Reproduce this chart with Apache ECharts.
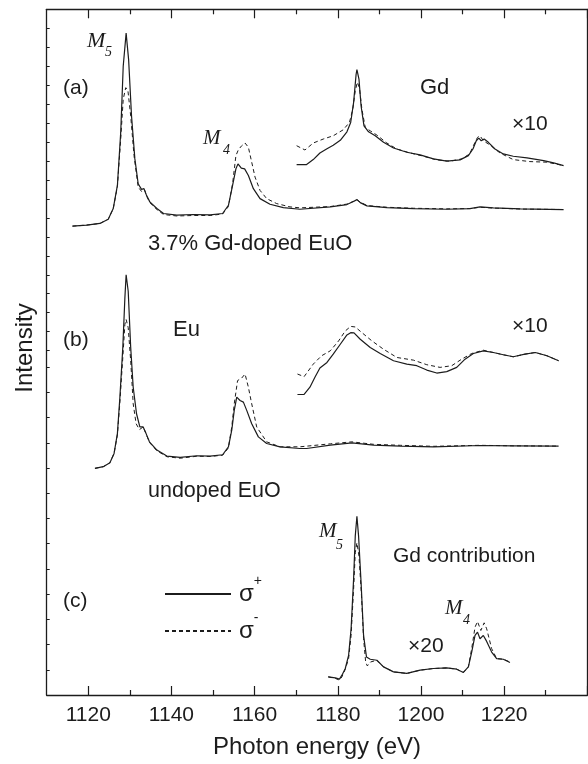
<!DOCTYPE html>
<html>
<head>
<meta charset="utf-8">
<script src="https://cdn.jsdelivr.net/npm/echarts@6/dist/echarts.min.js"></script>
<style>
html,body{margin:0;padding:0;background:#fff;}
#chart{width:588px;height:764px;}
</style>
</head>
<body>
<div id="chart"></div>
<script>
// Photon energy (eV) vs intensity (arb. units, panels offset vertically)
const xMajorTicks = [1120, 1140, 1160, 1180, 1200, 1220, 1240];
const xMinorTicks = [1130, 1150, 1170, 1190, 1210, 1230];
const xTickLabels = [1120, 1140, 1160, 1180, 1200, 1220];

// (a) 3.7% Gd-doped EuO
const aMainPlus = [[1116.2,472.3],[1119.6,473.3],[1122.8,475],[1124.8,479.3],[1126.0,490],[1127.0,513.3],[1127.8,566.7],[1128.4,633.3],[1129.1,666.7],[1129.7,640],[1130.4,583.3],[1131.2,540],[1132.0,515],[1132.8,509.3],[1133.4,510],[1134.0,503.3],[1134.8,496.7],[1136.5,490],[1138.1,485],[1141.3,483.3],[1145.3,484],[1149.3,483.7],[1152.3,485],[1153.7,493.3],[1154.7,513.3],[1155.5,530],[1156.0,535],[1156.8,530.7],[1157.6,530],[1158.5,523.3],[1159.7,510],[1161.3,500],[1163.7,494.3],[1166.9,491],[1170.9,489.3],[1178.2,491.7],[1182.2,494],[1183.9,497.3],[1184.6,499],[1185.4,496],[1187.0,492.7],[1191.8,491],[1198.2,490],[1206.2,489.3],[1211.8,490],[1214.2,491.7],[1217.4,490.7],[1223.9,489.7],[1234.3,489]];
const aMainMinus = [[1116.2,472.3],[1119.6,473.3],[1122.8,475],[1124.8,479.3],[1126.0,490],[1127.0,512],[1127.8,560],[1128.4,600],[1129.0,611.7],[1129.5,610],[1130.2,583.3],[1131.0,543.3],[1132.0,511.7],[1132.9,506.7],[1133.6,508.3],[1134.0,502.7],[1134.8,496],[1136.5,489],[1138.1,484],[1141.3,482.5],[1145.3,483],[1149.3,483],[1152.3,484.5],[1153.7,492],[1154.7,515],[1155.5,543.3],[1156.1,549.3],[1156.9,553.3],[1157.7,556],[1158.5,551.7],[1159.3,536.7],[1160.1,521.7],[1161.3,508.3],[1162.9,500],[1165.3,495],[1168.5,491.7],[1170.9,490.7],[1178.2,492],[1182.2,494.5],[1183.9,497.5],[1184.6,499],[1185.4,496.5],[1187.0,493],[1191.8,491.3],[1198.2,490.3],[1206.2,489.7],[1211.8,490],[1214.2,491.3],[1217.4,490.5],[1223.9,489.5],[1234.3,489]];
const aInsetPlus = [[1170.1,534.3],[1172.5,534.3],[1174.1,539.3],[1175.7,546],[1177.4,550.3],[1178.9,553.7],[1180.6,558.7],[1182.2,567.3],[1183.1,576.7],[1183.8,596.7],[1184.4,625],[1184.6,630],[1185.1,620],[1185.6,593.3],[1186.3,573.3],[1187.4,567.3],[1189.0,563.3],[1191.0,556.7],[1193.4,551],[1196.6,546.7],[1199.8,544],[1203.0,540],[1206.2,537.7],[1209.4,539],[1211.4,543.3],[1212.5,550],[1213.3,558.3],[1213.9,561],[1214.5,558.3],[1215.2,560],[1216.2,556.7],[1217.8,550],[1219.8,545],[1222.2,542.7],[1225.5,541],[1229.5,538.3],[1231.9,536],[1234.3,533.3]];
const aInsetMinus = [[1170.1,553.3],[1172.1,549],[1174.1,556],[1176.5,560],[1178.9,563.3],[1181.3,569.3],[1182.8,576.7],[1183.6,590],[1184.2,608.3],[1184.7,617.3],[1185.2,611.7],[1185.8,590],[1186.6,571.7],[1187.8,568.3],[1189.4,564],[1191.8,556],[1194.2,550],[1197.4,546],[1200.6,542.7],[1203.8,539],[1207.0,537.7],[1209.8,540],[1211.7,545],[1212.6,553.3],[1213.6,561.7],[1214.2,563.3],[1215.0,558.3],[1216.6,554],[1219.0,546],[1222.2,539.3],[1226.2,537.3],[1230.3,536.7],[1234.3,533.3]];

// (b) undoped EuO
const bMainPlus = [[1121.6,228.3],[1123.6,230],[1125.2,234],[1126.2,243.3],[1127.0,263.3],[1127.6,300],[1128.3,350],[1128.8,400],[1129.1,423.3],[1129.6,406.7],[1130.2,350],[1130.8,310],[1131.6,283.3],[1132.4,270],[1133.2,270],[1133.9,263.3],[1134.7,255],[1136.5,246.7],[1138.9,240.7],[1142.1,239.3],[1146.1,241],[1149.3,240.7],[1152.3,242],[1153.7,250],[1154.5,266.7],[1155.1,286.7],[1155.7,300],[1156.5,296.7],[1157.3,295],[1158.1,286.7],[1159.3,273.3],[1160.9,260],[1162.9,253.3],[1166.1,250],[1170.9,248.3],[1172.5,248.3],[1178.2,251.7],[1183.4,254],[1188.6,251.7],[1195.1,250.7],[1203.0,250],[1214.2,251.3],[1222.2,251],[1233.1,250.7]];
const bMainMinus = [[1121.6,228.3],[1123.6,230],[1125.2,234],[1126.2,243.3],[1127.0,262],[1127.6,295],[1128.3,340],[1128.8,373.3],[1129.1,378.3],[1129.6,370],[1130.2,336.7],[1130.8,293.3],[1131.5,273.3],[1132.3,267.3],[1133.2,270],[1133.9,263],[1134.7,254.5],[1136.5,246],[1138.9,240],[1142.1,238.5],[1146.1,240.5],[1149.3,240.3],[1152.3,241.5],[1153.7,249],[1154.5,270],[1155.1,293.3],[1155.9,316.7],[1156.9,319.3],[1157.7,323.3],[1158.5,310],[1159.3,293.3],[1160.5,270],[1162.9,255],[1166.1,250],[1170.9,250],[1178.2,253],[1183.4,255],[1188.6,252.5],[1195.1,251.5],[1203.0,250.5],[1214.2,251.5],[1222.2,251],[1233.1,250.7]];
const bInsetPlus = [[1170.3,302.7],[1171.9,302.7],[1173.3,310],[1174.5,320],[1175.7,329.3],[1177.4,335],[1178.9,343.3],[1180.6,353.3],[1182.2,362.7],[1183.1,365],[1183.9,364.7],[1185.4,358.3],[1187.8,350],[1190.2,344],[1193.4,336.7],[1196.6,333.3],[1199.0,331.7],[1201.4,327.3],[1203.8,324.3],[1206.2,325.7],[1208.6,330],[1210.6,338.3],[1212.6,344],[1215.0,346.7],[1217.4,345],[1219.8,342.7],[1222.2,340.7],[1225.0,343.3],[1227.5,345],[1230.3,341.7],[1233.1,336.7]];
const bInsetMinus = [[1170.3,323.3],[1171.9,320.7],[1174.1,333.3],[1176.1,341.7],[1178.2,346.7],[1180.2,356.7],[1181.8,366.7],[1183.1,371.3],[1184.2,370.7],[1185.8,365],[1188.2,356.7],[1191.0,348.3],[1194.2,340],[1198.2,337.3],[1201.4,332.7],[1204.6,330],[1207.4,331.7],[1209.8,338.3],[1212.2,344],[1215.0,347.3],[1217.4,345],[1219.8,342.7],[1222.2,340.7],[1225.0,343.3],[1227.5,345],[1230.3,341.7],[1233.1,336.7]];

// (c) Gd contribution (x20)
const cPlus = [[1177.7,18.3],[1179.4,17.3],[1180.4,16],[1181.0,20],[1181.8,26.7],[1182.6,40],[1183.2,66.7],[1183.8,116.7],[1184.2,160],[1184.6,180],[1185.0,160],[1185.6,113.3],[1186.2,60],[1186.9,38.3],[1187.8,36],[1189.4,35],[1191.0,28.3],[1193.4,23.3],[1196.6,21.7],[1199.8,25],[1203.0,26.7],[1206.2,27.3],[1208.6,26],[1210.2,22.7],[1211.4,28.3],[1212.2,43.3],[1213.0,60],[1213.6,63.3],[1214.2,56.7],[1215.0,60],[1215.8,54],[1217.0,43.3],[1218.2,36.7],[1219.8,36],[1221.4,32.7]];
const cMinus = [[1177.7,18.3],[1179.4,16.7],[1180.4,15],[1181.0,18.3],[1181.8,26],[1182.6,36.7],[1183.2,60],[1183.8,106.7],[1184.2,143.3],[1184.6,153.3],[1185.1,140],[1185.7,100],[1186.2,56.7],[1186.7,33.3],[1187.1,29.3],[1187.9,33.3],[1189.4,35],[1191.0,28.3],[1193.4,23.3],[1196.6,21.7],[1199.8,25],[1203.0,26.7],[1206.2,27.3],[1208.6,26],[1210.2,22.7],[1211.4,28.3],[1212.2,46.7],[1213.0,68.3],[1213.6,74],[1214.4,65],[1215.2,72.7],[1215.8,66.7],[1217.0,46.7],[1218.2,36.7],[1219.8,36],[1221.4,33.3]];

const yMax = 690.7;
// minor tick marks of the intensity axis (no labels)
const yTickValues = [];
for (let k = 1; k <= 13; k++) yTickValues.push(+(25.4 * k).toFixed(1));
for (let k = 1; k <= 18; k++) yTickValues.push(+(yMax - 19.1 * k).toFixed(1));

const INK = '#1c1c1c';
const SANS = 'Liberation Sans, Arial, sans-serif';
const SERIF = 'Liberation Serif, Times New Roman, serif';

const chart = echarts.init(document.getElementById('chart'), null, {renderer: 'canvas'});

function lineSeries(name, data, dashed) {
  return {
    type: 'line', name: name, data: data, xAxisIndex: 0, yAxisIndex: 0,
    symbol: 'none', showSymbol: false, smooth: false, silent: true, z: dashed ? 2 : 3,
    itemStyle: {color: INK},
    lineStyle: {color: INK, width: dashed ? 1.0 : 1.2, type: dashed ? [4, 3] : 'solid'}
  };
}

const frameLine = {show: true, onZero: false, lineStyle: {color: INK, width: 1.3}};
function xAx(pos, ticks, len, showLine, showLabel) {
  return {
    type: 'value', position: pos, min: 1110, max: 1240,
    axisLine: showLine ? frameLine : {show: false, onZero: false},
    axisTick: {show: true, inside: true, length: len, customValues: ticks, lineStyle: {color: INK, width: 1.2}},
    axisLabel: showLabel ? {show: true, customValues: xTickLabels, formatter: v => String(v), fontSize: 21, fontFamily: SANS, color: INK, margin: 10} : {show: false},
    splitLine: {show: false}
  };
}

const legendRich = {
  s: {fontSize: 24, lineHeight: 40, fontFamily: SANS, color: INK},
  p: {fontSize: 14, lineHeight: 14, fontFamily: SANS, color: INK, verticalAlign: 'top'}
};
function legendFor(name, top) {
  return {
    data: [name], orient: 'vertical', left: 164, top: top, padding: 0,
    itemWidth: 66, itemHeight: 14, selectedMode: false,
    itemStyle: {opacity: 0},
    formatter: n => n === 'σ+' ? '{s|σ}{p|+}' : '{s|σ}{p|-}',
    textStyle: {rich: legendRich, color: INK, padding: [0, 0, 0, 3]}
  };
}

function txt(text, x, y, size, opts) {
  opts = opts || {};
  return {
    type: 'text', x: x, y: y, rotation: opts.rot || 0, silent: true, z: 10,
    style: {
      text: text, fill: INK, fontSize: size, fontFamily: opts.serif ? SERIF : SANS,
      fontStyle: opts.italic ? 'italic' : 'normal',
      align: opts.align || 'left', verticalAlign: 'middle'
    }
  };
}

const option = {
  animation: false,
  backgroundColor: '#fff',
  grid: {left: 46.7, right: 0.7, top: 9.3, bottom: 64, containLabel: false},
  xAxis: [
    Object.assign(xAx('bottom', xMajorTicks, 9, true, true), {
      name: 'Photon energy (eV)', nameLocation: 'middle', nameGap: 40,
      nameTextStyle: {fontSize: 24, fontFamily: SANS, color: INK}
    }),
    xAx('bottom', xMinorTicks, 5, false, false),
    xAx('top', xMajorTicks, 9, true, false),
    xAx('top', xMinorTicks, 5, false, false)
  ],
  yAxis: [
    {type: 'value', position: 'left', min: 0, max: yMax,
     axisLine: frameLine,
     axisTick: {show: true, inside: true, length: 3, customValues: yTickValues, lineStyle: {color: INK, width: 1}},
     axisLabel: {show: false}, splitLine: {show: false}},
    {type: 'value', position: 'right', min: 0, max: yMax,
     axisLine: frameLine, axisTick: {show: false}, axisLabel: {show: false}, splitLine: {show: false}}
  ],
  legend: [legendFor('σ+', 574), legendFor('σ-', 611)],
  series: [
    lineSeries('σ-', aMainMinus, true), lineSeries('σ+', aMainPlus, false),
    lineSeries('σ-', aInsetMinus, true), lineSeries('σ+', aInsetPlus, false),
    lineSeries('σ-', bMainMinus, true), lineSeries('σ+', bMainPlus, false),
    lineSeries('σ-', bInsetMinus, true), lineSeries('σ+', bInsetPlus, false),
    lineSeries('σ-', cMinus, true), lineSeries('σ+', cPlus, false)
  ],
  graphic: [
    txt('Intensity', 25, 348, 24, {align: 'center', rot: Math.PI / 2}),
    txt('(a)', 63, 88, 21),
    txt('M', 87, 41, 22, {serif: true, italic: true}),
    txt('5', 105, 52, 14, {serif: true, italic: true}),
    txt('M', 203, 138, 21, {serif: true, italic: true}),
    txt('4', 223, 150, 14, {serif: true, italic: true}),
    txt('Gd', 420, 88, 22),
    txt('×10', 512, 124, 21),
    txt('3.7% Gd-doped EuO', 148, 244, 22),
    txt('(b)', 63, 340, 21),
    txt('Eu', 173, 330, 22),
    txt('×10', 512, 326, 21),
    txt('undoped EuO', 148, 491, 21.5),
    txt('(c)', 63, 601, 21),
    txt('M', 319, 531.5, 21, {serif: true, italic: true}),
    txt('5', 336, 545, 14, {serif: true, italic: true}),
    txt('Gd contribution', 393, 556, 21),
    txt('M', 445, 608.5, 21, {serif: true, italic: true}),
    txt('4', 463, 620, 14, {serif: true, italic: true}),
    txt('×20', 408, 646, 21)
  ]
};
chart.setOption(option);
</script>
</body>
</html>
